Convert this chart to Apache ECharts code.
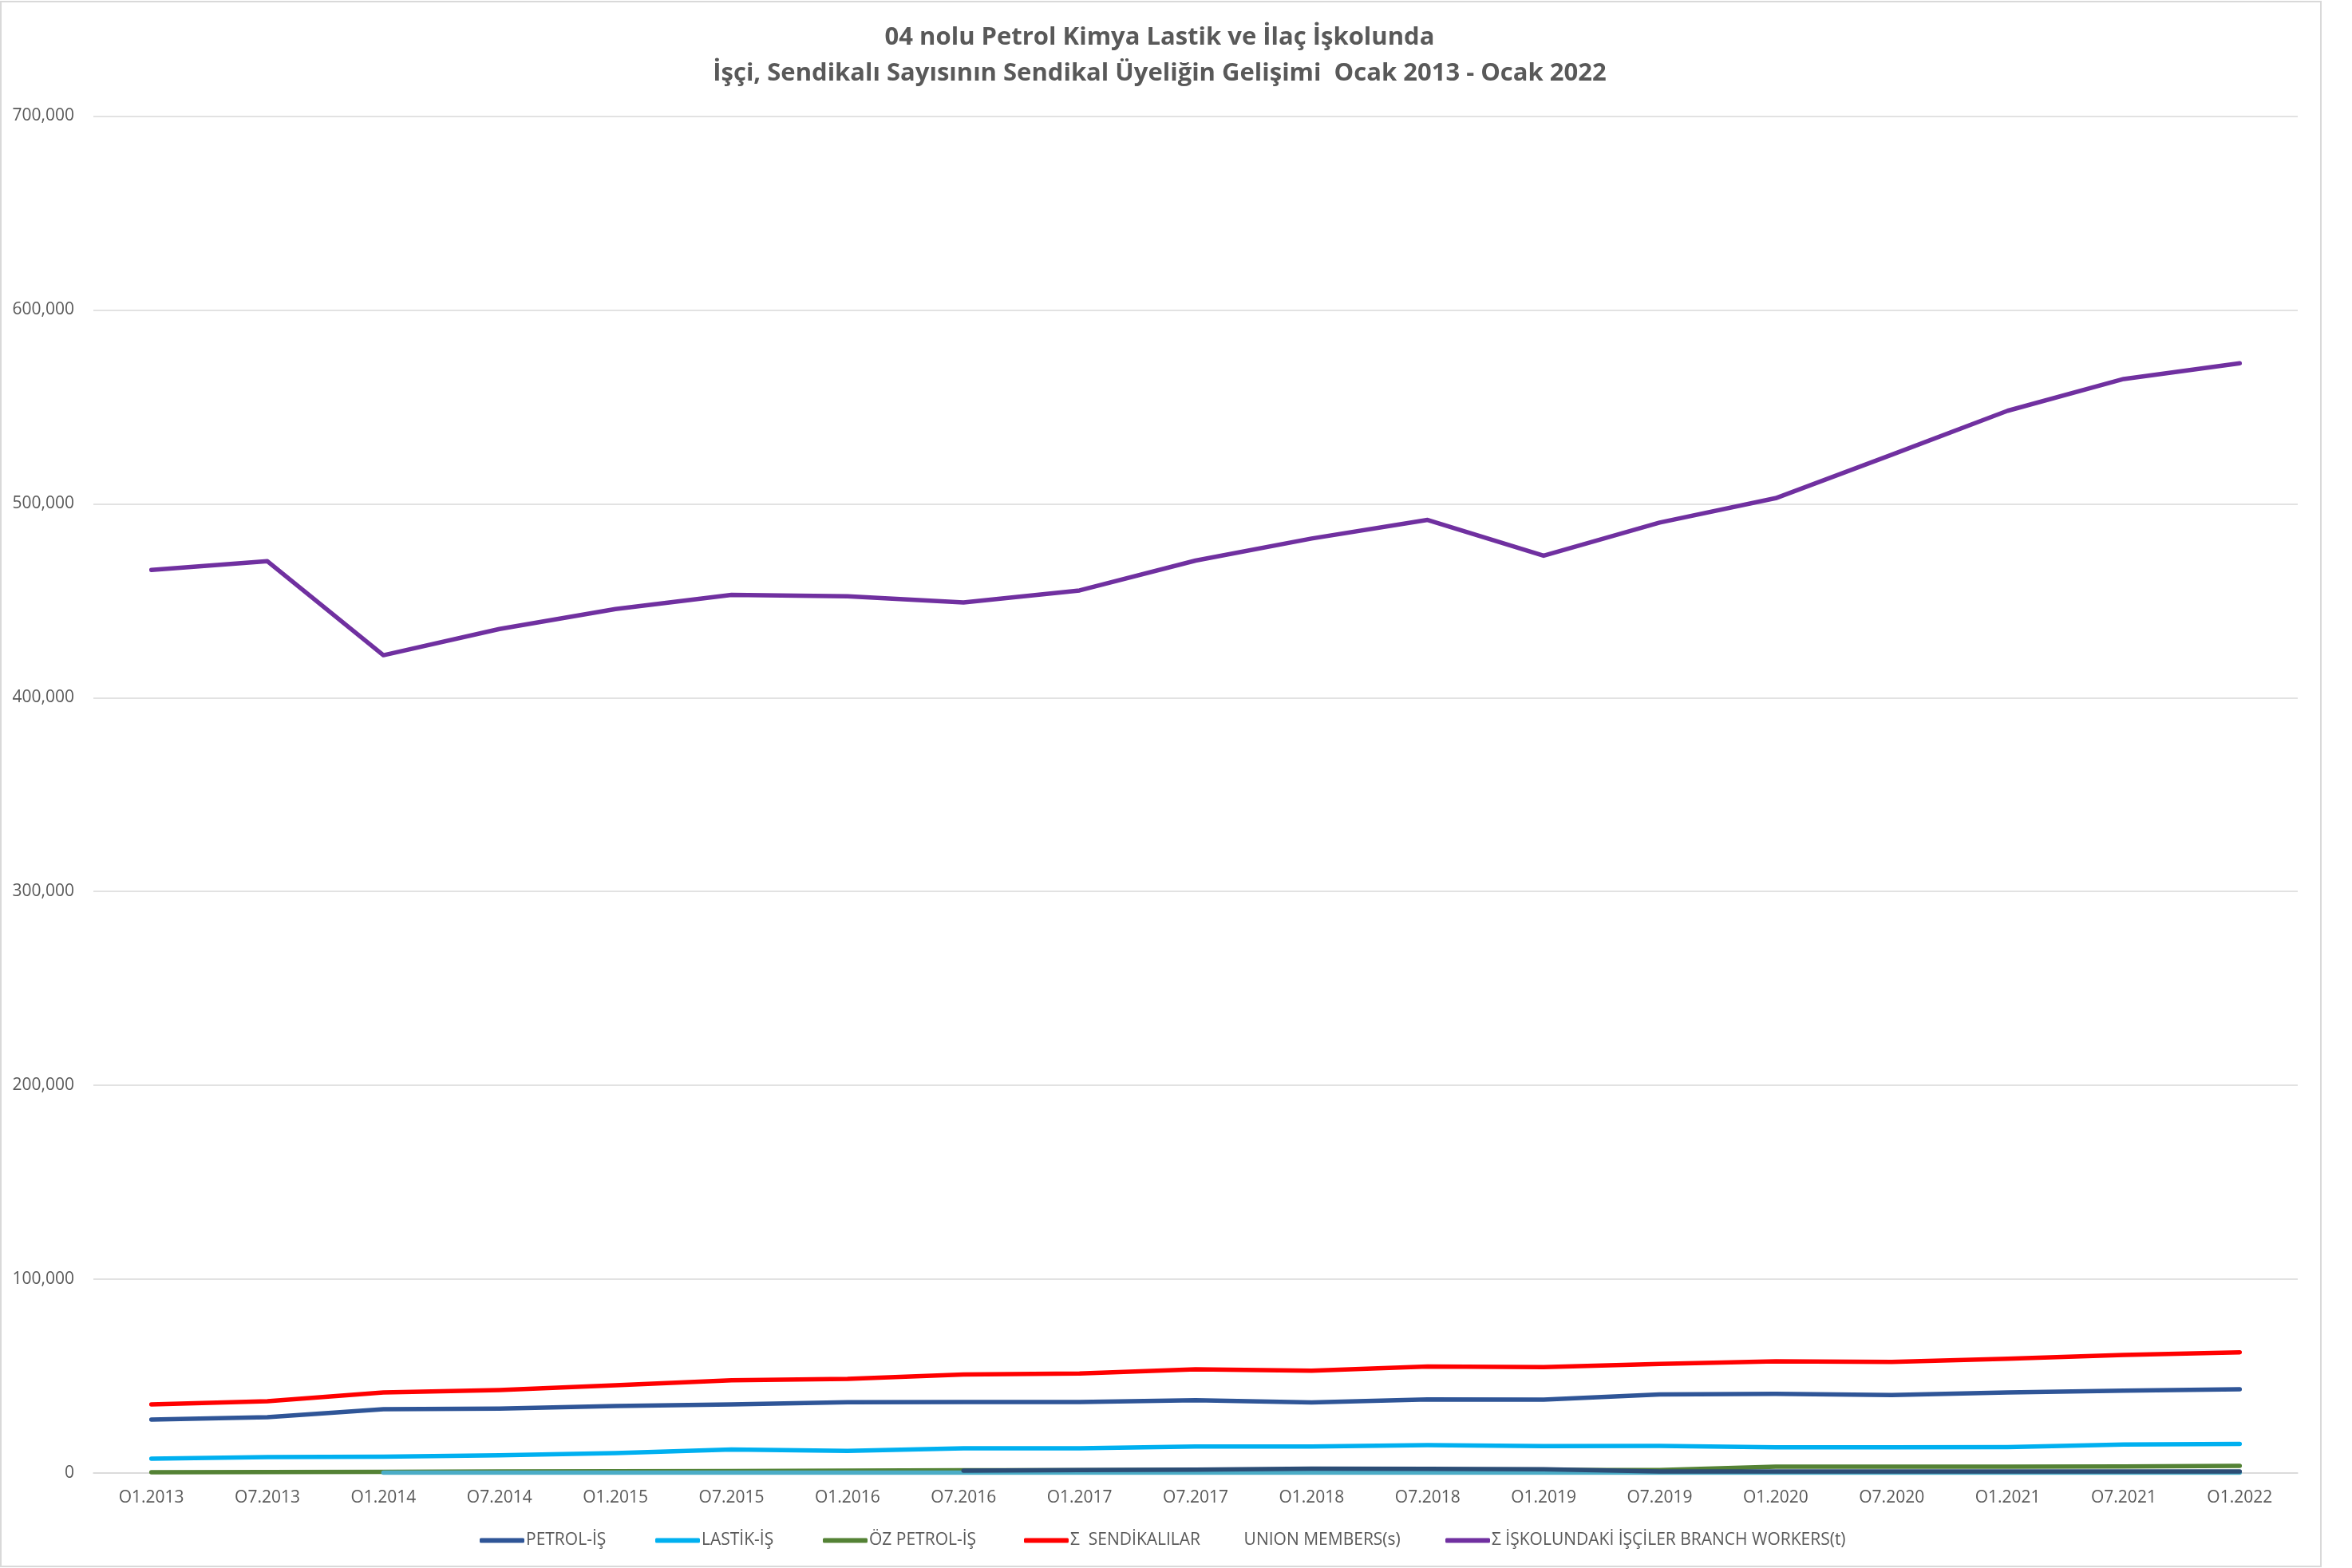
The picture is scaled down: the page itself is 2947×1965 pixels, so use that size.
<!DOCTYPE html>
<html>
<head>
<meta charset="utf-8">
<script src="https://cdn.jsdelivr.net/npm/echarts@6/dist/echarts.min.js"></script>
<style>
  html, body { margin:0; padding:0; background:#fff; }
  #chart { width:2947px; height:1965px; }
</style>
</head>
<body>
<div id="chart"></div>
<script>
  // donemler (Ocak / Temmuz)
  var categories = ['O1.2013','O7.2013','O1.2014','O7.2014','O1.2015','O7.2015','O1.2016','O7.2016','O1.2017','O7.2017',
                    'O1.2018','O7.2018','O1.2019','O7.2019','O1.2020','O7.2020','O1.2021','O7.2021','O1.2022'];
  var yTicks = [0, 100000, 200000, 300000, 400000, 500000, 600000, 700000];

  var petrolIs   = [27600, 28800, 32900, 33200, 34600, 35400, 36500, 36600, 36600, 37600, 36400, 38000, 37900, 40500, 40900, 40200, 41600, 42500, 43200];
  var lastikIs   = [7400, 8200, 8400, 9200, 10300, 12100, 11400, 12800, 12800, 13700, 13700, 14400, 13900, 14000, 13300, 13300, 13400, 14700, 15000];
  var ozPetrolIs = [400, 500, 600, 800, 900, 1000, 1200, 1400, 1400, 1500, 1500, 1500, 1500, 1500, 3300, 3300, 3300, 3400, 3700];
  // legend'da olmayan iki seri
  var digerA     = [null, null, 200, 200, 200, 200, 200, 200, 200, 200, 200, 200, 200, 200, 200, 200, 200, 200, 200];
  var digerB     = [null, null, null, null, null, null, null, 1200, 1500, 1800, 2300, 2200, 2000, 800, 800, 800, 800, 800, 800];
  var sendikalilar = [35400, 37000, 41600, 42800, 45300, 47900, 48600, 50800, 51400, 53500, 52800, 55000, 54600, 56300, 57600, 57300, 59000, 60900, 62300];
  var iskoluIsci   = [465900, 470400, 421900, 435400, 445700, 453000, 452300, 449100, 455300, 470700, 482100, 491700, 473200, 490300, 502900, 525300, 548000, 564400, 572500];

  var FONT = '"Open Sans", "Liberation Sans", sans-serif';
  var TXT = '#595959';

  function lineSeries(name, data, color) {
    return {
      name: name,
      type: 'line',
      data: data,
      symbol: 'none',
      smooth: false,
      connectNulls: false,
      itemStyle: { color: color },
      lineStyle: { color: color, width: 5.5, cap: 'round', join: 'round' }
    };
  }

  var sendName = 'Σ  SENDİKALILAR          UNION MEMBERS(s)';
  var isciName = 'Σ İŞKOLUNDAKİ İŞÇİLER BRANCH WORKERS(t)';

  function legendAt(name, left) {
    return {
      data: [name],
      left: left,
      top: 1920,
      padding: 0,
      itemWidth: 56,
      itemHeight: 6,
      icon: 'roundRect',
      itemGap: 0,
      textStyle: { fontFamily: FONT, fontSize: 21, color: TXT, padding: [0, 0, 0, -3] }
    };
  }

  var option = {
    backgroundColor: '#ffffff',
    animation: false,
    grid: { left: 117, right: 68, top: 145.5, bottom: 119 },
    graphic: [
      { type: 'rect', shape: { x: 1, y: 2, width: 2907, height: 1961 }, style: { fill: 'none', stroke: '#d9d9d9', lineWidth: 2 }, silent: true },
      { type: 'text', x: 1453, y: 47, style: { text: '04 nolu Petrol Kimya Lastik ve İlaç İşkolunda', fontFamily: FONT, fontWeight: 'bold', fontSize: 31, fill: TXT, textAlign: 'center', textVerticalAlign: 'middle' } },
      { type: 'text', x: 1453, y: 92, style: { text: 'İşçi, Sendikalı Sayısının Sendikal Üyeliğin Gelişimi  Ocak 2013 - Ocak 2022', fontFamily: FONT, fontWeight: 'bold', fontSize: 31, fill: TXT, textAlign: 'center', textVerticalAlign: 'middle' } }
    ],
    legend: [
      legendAt('PETROL-İŞ', 601),
      legendAt('LASTİK-İŞ', 821),
      legendAt('ÖZ PETROL-İŞ', 1031),
      legendAt(sendName, 1283),
      legendAt(isciName, 1811)
    ],
    xAxis: {
      type: 'category',
      data: categories,
      boundaryGap: true,
      axisTick: { show: false },
      axisLine: { lineStyle: { color: '#d9d9d9', width: 1.5 } },
      axisLabel: { fontFamily: FONT, fontSize: 21, color: TXT, margin: 21, interval: 0 }
    },
    yAxis: {
      type: 'value',
      min: yTicks[0],
      max: yTicks[yTicks.length - 1],
      interval: yTicks[1] - yTicks[0],
      axisLine: { show: false },
      axisTick: { show: false },
      splitLine: { lineStyle: { color: '#d9d9d9', width: 1.5 } },
      axisLabel: {
        fontFamily: FONT, fontSize: 21, color: TXT, margin: 24,
        formatter: function (v) { return v.toLocaleString('en-US'); }
      }
    },
    series: [
      lineSeries('PETROL-İŞ', petrolIs, '#2f5597'),
      lineSeries('LASTİK-İŞ', lastikIs, '#00b0f0'),
      lineSeries('ÖZ PETROL-İŞ', ozPetrolIs, '#548235'),
      lineSeries('Diğer-A', digerA, '#4bacc6'),
      lineSeries('Diğer-B', digerB, '#2c4d75'),
      lineSeries(sendName, sendikalilar, '#ff0000'),
      lineSeries(isciName, iskoluIsci, '#7030a0')
    ]
  };

  var chart = echarts.init(document.getElementById('chart'));
  chart.setOption(option);
</script>
</body>
</html>
